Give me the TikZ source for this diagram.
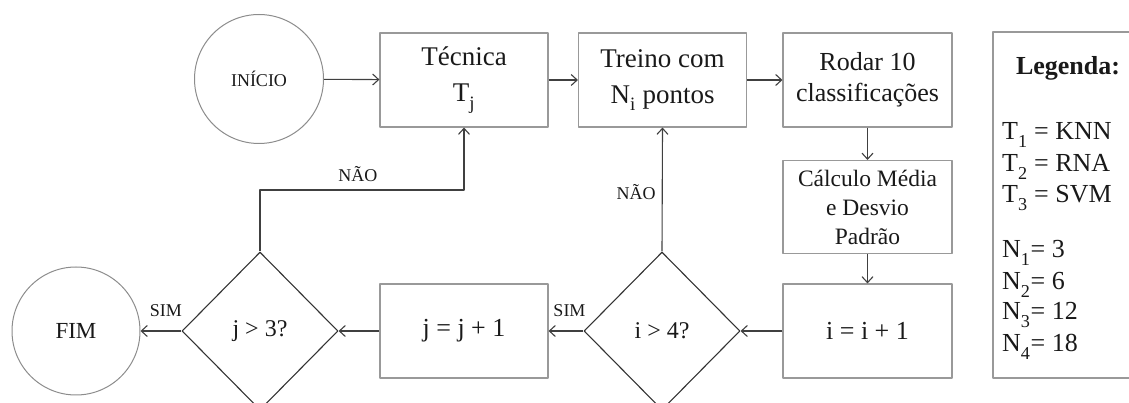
\documentclass[tikz,border=0pt]{standalone}
\usepackage{fontspec}
\setmainfont{Liberation Serif}
\usetikzlibrary{shapes.geometric,arrows.meta}
\newcommand{\idx}[1]{\raisebox{-0.3ex}{\textsubscript{#1}}}
\begin{document}
\begin{tikzpicture}[>={Straight Barb[length=6bp,width=11bp]},line join=bevel,
  caixa/.style={draw=black!40,line width=1.1bp,minimum width=168bp,minimum height=94bp,inner sep=0,align=center,text=black!90},
  circulo/.style={circle,draw=black!45,line width=1bp,minimum size=129bp,inner sep=0,text=black!90},
  losango/.style={diamond,draw=black!80,line width=1.1bp,minimum width=156bp,minimum height=158bp,inner sep=0,text=black!90,font=\fontsize{24bp}{28bp}\selectfont},
  seta/.style={black!75,line width=1.1bp,->},
  rotulo/.style={font=\fontsize{18bp}{20bp}\selectfont,text=black!90,inner sep=0},
  legtexto/.style={font=\fontsize{26bp}{31bp}\selectfont,text=black!90,inner sep=0},
]
\useasboundingbox (0bp,0bp) rectangle (1129bp,403bp);
%%
\node (inicio) at (259bp,324bp) [circulo,font=\fontsize{18bp}{20bp}\selectfont] {INÍCIO};
\node (tecnica) at (464bp,323bp) [caixa,font=\fontsize{27bp}{36bp}\selectfont] {Técnica\\T\idx{j}};
\node (treino) at (662.5bp,323bp) [caixa,font=\fontsize{27bp}{36bp}\selectfont] {Treino com\\N\idx{i} pontos};
\node (rodar) at (867.5bp,323bp) [caixa,minimum width=169bp,font=\fontsize{26bp}{31bp}\selectfont] {Rodar 10\\classificações};
\node (calculo) at (867.5bp,196bp) [caixa,minimum width=169bp,minimum height=93bp,font=\fontsize{23.5bp}{29bp}\selectfont] {Cálculo Média\\e Desvio\\Padrão};
\node (inc_i) at (867.5bp,72bp) [caixa,minimum width=169bp,font=\fontsize{26bp}{31bp}\selectfont] {i = i + 1};
\node (teste_i) at (662bp,72bp) [losango] {i > 4?};
\node (inc_j) at (464bp,72bp) [caixa,font=\fontsize{26bp}{31bp}\selectfont] {j = j + 1};
\node (teste_j) at (260bp,72bp) [losango] {j > 3?};
\node (fim) at (76bp,72bp) [circulo,minimum size=128bp,font=\fontsize{23bp}{26bp}\selectfont] {FIM};
\coordinate (dobra) at (260bp,213bp);
%
\draw [seta] (inicio) -- (tecnica);
\draw [seta] (tecnica) -- (treino);
\draw [seta] (treino) -- (rodar);
\draw [seta] (rodar) -- (calculo);
\draw [seta] (calculo) -- (inc_i);
\draw [seta] (inc_i) -- (teste_i);
\draw [seta] (teste_i.west) -- (inc_j.east) node [rotulo,pos=0.4,above=14bp] {SIM};
\draw [seta] (teste_i.north) -- (treino.south) node [rotulo,pos=0.48,left=6bp] {NÃO};
\draw [seta] (inc_j) -- (teste_j);
\draw [seta] (teste_j.west) -- (fim.east) node [rotulo,pos=0.38,above=14bp] {SIM};
\draw [seta] (teste_j.north) -- (dobra) -| node [rotulo,pos=0.24,above=8bp] {NÃO} (tecnica.south);
%
\node (legenda) at (1067bp,198bp) [caixa,minimum width=148bp,minimum height=346bp] {};
\node (titulo) at (1068bp,328bp) [legtexto,anchor=base,font=\fontsize{26bp}{31bp}\selectfont\bfseries] {Legenda:};
\foreach \yy/\txt [count=\k] in {263/{T\idx{1} = KNN},231/{T\idx{2} = RNA},200/{T\idx{3} = SVM},
    145/{N\idx{1}= 3},113/{N\idx{2}= 6},83/{N\idx{3}= 12},51/{N\idx{4}= 18}}
  \node (leg_\k) at (1002bp,\yy bp) [legtexto,anchor=base west] {\txt};
%
\end{tikzpicture}
\end{document}
